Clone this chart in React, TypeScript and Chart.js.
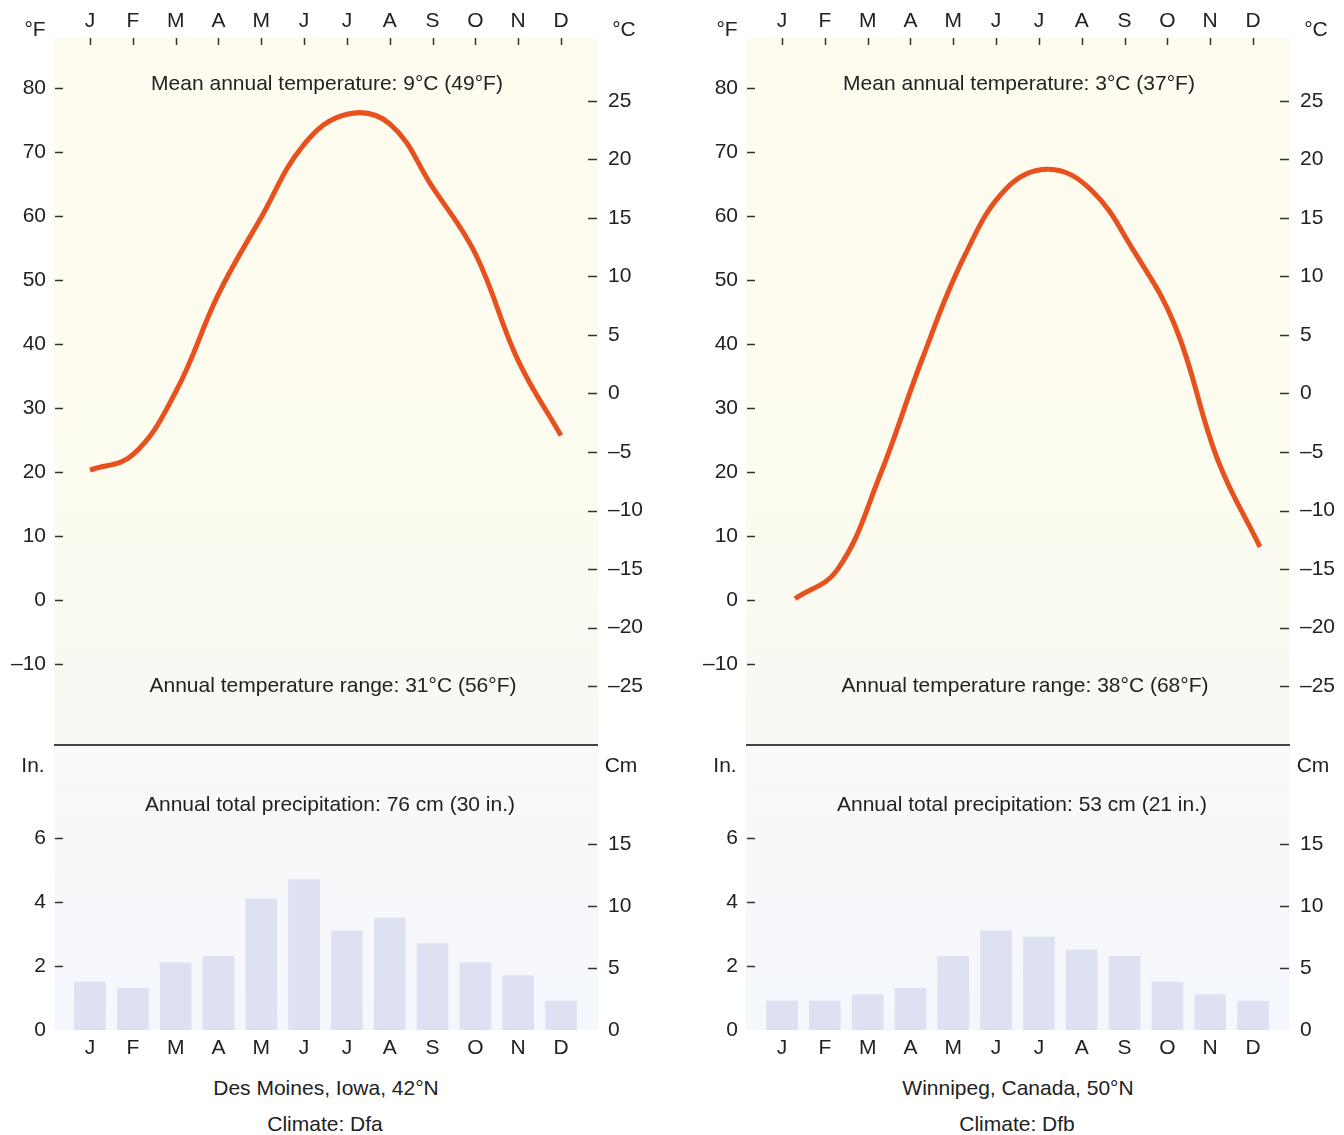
import React, { useEffect, useRef } from 'react';
import { Chart, registerables } from 'chart.js';

Chart.register(...registerables);

// ---------- data ----------
const MONTHS = ['J', 'F', 'M', 'A', 'M', 'J', 'J', 'A', 'S', 'O', 'N', 'D'];
const F_TICKS = [-10, 0, 10, 20, 30, 40, 50, 60, 70, 80];
const C_TICKS = [-25, -20, -15, -10, -5, 0, 5, 10, 15, 20, 25];
const IN_TICKS = [0, 2, 4, 6];
const CM_TICKS = [0, 5, 10, 15];

const DES_MOINES_TEMP_F = [20.3, 22.7, 32.5, 47.8, 59.8, 71.2, 75.9, 74.4, 64.5, 54.1, 37.4, 25.7];
const DES_MOINES_PRECIP_IN = [1.5, 1.3, 2.1, 2.3, 4.1, 4.7, 3.1, 3.5, 2.7, 2.1, 1.7, 0.9];
const WINNIPEG_TEMP_F = [0.2, 4.7, 19.3, 37.5, 53.6, 64.3, 67.3, 64.1, 54.7, 42.7, 21.9, 8.3];
const WINNIPEG_PRECIP_IN = [0.9, 0.9, 1.1, 1.3, 2.3, 3.1, 2.9, 2.5, 2.3, 1.5, 1.1, 0.9];

const DES_MOINES_TEXT = {
  mean: 'Mean annual temperature: 9°C (49°F)',
  range: 'Annual temperature range: 31°C (56°F)',
  precip: 'Annual total precipitation: 76 cm (30 in.)',
  place: 'Des Moines, Iowa, 42°N',
  climate: 'Climate: Dfa',
};
const WINNIPEG_TEXT = {
  mean: 'Mean annual temperature: 3°C (37°F)',
  range: 'Annual temperature range: 38°C (68°F)',
  precip: 'Annual total precipitation: 53 cm (21 in.)',
  place: 'Winnipeg, Canada, 50°N',
  climate: 'Climate: Dfb',
};

// ---------- styling / layout ----------
const FONT = "'Liberation Sans', Arial, Helvetica, sans-serif";
const TEXT = '#222222';
const LINE_COLOR = '#e8501e';
const BAR_COLOR = '#dde1f1';
const FONT_SIZE = 21;

const X_MIN = -0.841;
const X_MAX = 11.864;
const F_MIN = -22.656;
const F_MAX = 87.8125;
const C_MIN = -30.04;
const C_MAX = 30.38;
const IN_MAX = 8.875;
const CM_MAX = 22.9;

const CANVAS_W = 652;
const TEMP_H = 747;
const PRECIP_TOP = 746;
const PRECIP_H = 320;

Chart.defaults.font.family = FONT;
Chart.defaults.font.size = FONT_SIZE;
Chart.defaults.color = TEXT;

const fmt = (v: number) => (v < 0 ? '\u2013' + Math.abs(v) : String(v));

const decor = {
  id: 'decor',
  beforeDraw(chart: any, _args: any, opts: any) {
    const { ctx, chartArea: a } = chart;
    const g = ctx.createLinearGradient(0, a.top, 0, a.bottom);
    opts.stops.forEach(([o, c]: [number, string]) => g.addColorStop(o, c));
    ctx.save();
    ctx.fillStyle = g;
    ctx.fillRect(a.left, a.top, a.right - a.left, a.bottom - a.top);
    ctx.restore();
  },
  afterDraw(chart: any, _args: any, opts: any) {
    const { ctx, chartArea: a } = chart;
    ctx.save();
    ctx.strokeStyle = '#333333';
    ctx.lineWidth = 1.5;
    ctx.beginPath();
    (opts.marks || []).forEach((m: any) => {
      const s = chart.scales[m.id];
      m.values.forEach((v: number) => {
        if (m.skipZero && v === 0) return;
        const p = Math.round(s.getPixelForValue(v)) + 0.5;
        if (m.side === 'left') {
          ctx.moveTo(a.left + 1, p);
          ctx.lineTo(a.left + 9, p);
        } else if (m.side === 'right') {
          ctx.moveTo(a.right - 10, p);
          ctx.lineTo(a.right - 1, p);
        } else if (m.side === 'top') {
          ctx.moveTo(p, a.top);
          ctx.lineTo(p, a.top + 7);
        }
      });
    });
    ctx.stroke();
    if (opts.divider) {
      ctx.strokeStyle = '#444444';
      ctx.lineWidth = 2;
      ctx.beginPath();
      ctx.moveTo(a.left, a.bottom);
      ctx.lineTo(a.right, a.bottom);
      ctx.stroke();
    }
    ctx.restore();
  },
};

const hiddenGrid = { display: false, drawTicks: false };

const fitY = (w: number) => (s: any) => {
  s.width = w;
  s.paddingTop = 0;
  s.paddingBottom = 0;
  s.paddingLeft = 0;
  s.paddingRight = 0;
};
const fitX = (h: number) => (s: any) => {
  s.height = h;
  s.paddingTop = 0;
  s.paddingBottom = 0;
  s.paddingLeft = 0;
  s.paddingRight = 0;
};

function tempConfig(temps: number[], lineMin: number, lineMax: number) {
  const monthIdx = MONTHS.map((_, i) => i);
  return {
    type: 'line',
    data: {
      datasets: [
        {
          data: temps.map((y, i) => ({ x: i, y })),
          borderColor: LINE_COLOR,
          borderWidth: 5,
          pointRadius: 0,
          tension: 0.4,
          fill: false,
          xAxisID: 'xl',
          yAxisID: 'yF',
        },
      ],
    },
    plugins: [decor],
    options: {
      animation: false,
      responsive: false,
      maintainAspectRatio: false,
      events: [],
      layout: { autoPadding: false, padding: { top: 0, left: 0, right: 0, bottom: 2 } },
      plugins: {
        legend: { display: false },
        tooltip: { enabled: false },
        decor: {
          stops: [
            [0, '#fefcef'],
            [0.62, '#fdfcf0'],
            [1, '#f7f8f4'],
          ],
          divider: true,
          marks: [
            { id: 'x', side: 'top', values: monthIdx },
            { id: 'yF', side: 'left', values: F_TICKS },
            { id: 'yC', side: 'right', values: C_TICKS },
          ],
        },
      },
      scales: {
        x: {
          type: 'linear',
          position: 'top',
          min: X_MIN,
          max: X_MAX,
          grid: hiddenGrid,
          border: { display: false },
          ticks: { padding: 4, autoSkip: false, maxRotation: 0, callback: (v: number) => MONTHS[v] ?? '' },
          afterBuildTicks: (s: any) => { s.ticks = monthIdx.map((v) => ({ value: v })); },
          afterFit: fitX(38),
        },
        xl: { type: 'linear', display: false, min: lineMin, max: lineMax, afterFit: fitX(0) },
        yF: {
          type: 'linear',
          position: 'left',
          min: F_MIN,
          max: F_MAX,
          grid: hiddenGrid,
          border: { display: false },
          ticks: { padding: 8, callback: (v: number) => fmt(v) },
          afterBuildTicks: (s: any) => { s.ticks = F_TICKS.map((v) => ({ value: v })); },
          afterFit: fitY(54),
        },
        yC: {
          type: 'linear',
          position: 'right',
          min: C_MIN,
          max: C_MAX,
          grid: hiddenGrid,
          border: { display: false },
          ticks: { padding: 10, callback: (v: number) => fmt(v) },
          afterBuildTicks: (s: any) => { s.ticks = C_TICKS.map((v) => ({ value: v })); },
          afterFit: fitY(54),
        },
      },
    },
  };
}

function precipConfig(precip: number[]) {
  return {
    type: 'bar',
    data: {
      datasets: [
        {
          data: precip.map((y, i) => ({ x: i, y })),
          backgroundColor: BAR_COLOR,
          barThickness: 31,
          xAxisID: 'x',
          yAxisID: 'yIn',
        },
      ],
    },
    plugins: [decor],
    options: {
      animation: false,
      responsive: false,
      maintainAspectRatio: false,
      events: [],
      layout: { autoPadding: false, padding: 0 },
      plugins: {
        legend: { display: false },
        tooltip: { enabled: false },
        decor: {
          stops: [
            [0, '#f8f9f9'],
            [1, '#f4f7fc'],
          ],
          divider: false,
          marks: [
            { id: 'yIn', side: 'left', values: IN_TICKS, skipZero: true },
            { id: 'yCm', side: 'right', values: CM_TICKS, skipZero: true },
          ],
        },
      },
      scales: {
        x: {
          type: 'linear',
          position: 'bottom',
          min: X_MIN,
          max: X_MAX,
          offset: false,
          grid: hiddenGrid,
          border: { display: false },
          ticks: { padding: 6, autoSkip: false, maxRotation: 0, callback: (v: number) => MONTHS[v] ?? '' },
          afterBuildTicks: (s: any) => { s.ticks = MONTHS.map((_, i) => ({ value: i })); },
          afterFit: fitX(PRECIP_H - 284),
        },
        yIn: {
          type: 'linear',
          position: 'left',
          min: 0,
          max: IN_MAX,
          grid: hiddenGrid,
          border: { display: false },
          ticks: { padding: 8, callback: (v: number) => fmt(v) },
          afterBuildTicks: (s: any) => { s.ticks = IN_TICKS.map((v) => ({ value: v })); },
          afterFit: fitY(54),
        },
        yCm: {
          type: 'linear',
          position: 'right',
          min: 0,
          max: CM_MAX,
          grid: hiddenGrid,
          border: { display: false },
          ticks: { padding: 10, callback: (v: number) => fmt(v) },
          afterBuildTicks: (s: any) => { s.ticks = CM_TICKS.map((v) => ({ value: v })); },
          afterFit: fitY(54),
        },
      },
    },
  };
}

function ChartCanvas({ config, left, top, width, height }: any) {
  const ref = useRef<HTMLCanvasElement | null>(null);
  useEffect(() => {
    const chart = new Chart(ref.current as HTMLCanvasElement, config as any);
    return () => chart.destroy();
  }, []);
  return (
    <canvas
      ref={ref}
      width={width}
      height={height}
      style={{ position: 'absolute', left, top, width, height, display: 'block' }}
    />
  );
}

function Label({ x, y, children }: any) {
  return (
    <div
      style={{
        position: 'absolute',
        left: x,
        top: y,
        transform: 'translate(-50%, -50%)',
        whiteSpace: 'nowrap',
        fontFamily: FONT,
        fontSize: FONT_SIZE,
        lineHeight: 1,
        color: TEXT,
      }}
    >
      {children}
    </div>
  );
}

function Panel({ ox, temps, precip, lineMin, lineMax, text }: any) {
  return (
    <>
      <ChartCanvas config={tempConfig(temps, lineMin, lineMax)} left={ox} top={0} width={CANVAS_W} height={TEMP_H} />
      <ChartCanvas config={precipConfig(precip)} left={ox} top={PRECIP_TOP} width={CANVAS_W} height={PRECIP_H} />
      <Label x={ox + 35} y={28}>°F</Label>
      <Label x={ox + 624} y={28}>°C</Label>
      <Label x={ox + 327} y={82}>{text.mean}</Label>
      <Label x={ox + 333} y={684}>{text.range}</Label>
      <Label x={ox + 33} y={764}>In.</Label>
      <Label x={ox + 621} y={764}>Cm</Label>
      <Label x={ox + 330} y={803}>{text.precip}</Label>
      <Label x={ox + 326} y={1087}>{text.place}</Label>
      <Label x={ox + 325} y={1123}>{text.climate}</Label>
    </>
  );
}

export default function App() {
  return (
    <div
      style={{
        position: 'absolute',
        left: 0,
        top: 0,
        width: 1344,
        height: 1135,
        overflow: 'hidden',
        background: '#ffffff',
      }}
    >
      <Panel
        ox={0}
        temps={DES_MOINES_TEMP_F}
        precip={DES_MOINES_PRECIP_IN}
        lineMin={X_MIN}
        lineMax={X_MAX}
        text={DES_MOINES_TEXT}
      />
      <Panel
        ox={692}
        temps={WINNIPEG_TEMP_F}
        precip={WINNIPEG_PRECIP_IN}
        lineMin={-1.159}
        lineMax={11.71}
        text={WINNIPEG_TEXT}
      />
    </div>
  );
}
